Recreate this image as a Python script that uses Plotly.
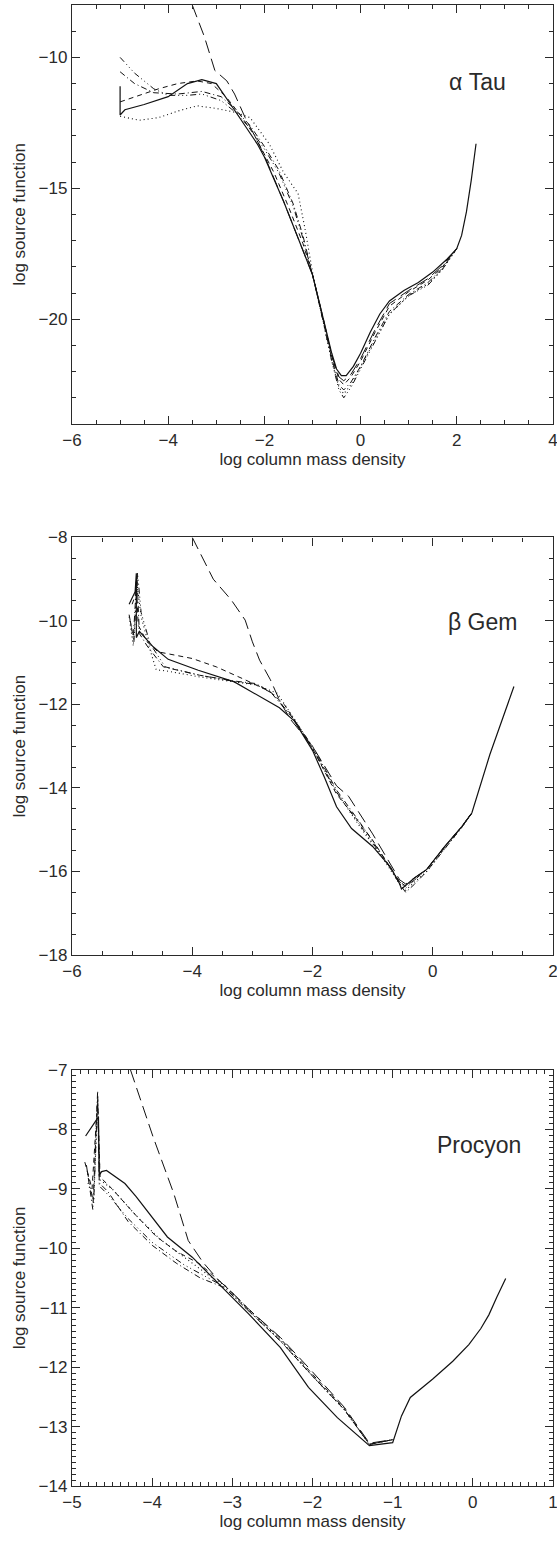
import plotly.graph_objects as go

# ---------------- alpha Tau ----------------
tau_solid_x = [-5.0, -5.0, -4.9, -4.5, -4.0, -3.6, -3.3, -3.0, -2.7, -2.4, -2.15, -2.0, -1.6, -1.3, -1.0, -0.8, -0.6, -0.5, -0.4, -0.3, -0.15, 0.0, 0.2, 0.4, 0.6, 0.9, 1.2, 1.5, 1.8, 2.0, 2.1, 2.2, 2.3, 2.4]
tau_solid_y = [-11.1, -12.2, -12.0, -11.8, -11.5, -11.0, -10.85, -11.0, -11.8, -12.6, -13.3, -13.8, -15.5, -16.9, -18.3, -19.8, -21.3, -21.9, -22.15, -22.15, -21.8, -21.3, -20.5, -19.8, -19.3, -18.9, -18.6, -18.2, -17.7, -17.3, -16.8, -15.9, -14.7, -13.3]
tau_dot_x = [-5.0, -4.6, -4.2, -3.8, -3.4, -3.0, -2.6, -2.3, -1.9, -1.6, -1.3, -1.15, -1.0, -0.8, -0.6, -0.45, -0.35, -0.2, 0.0, 0.3, 0.6, 1.0, 1.4, 1.7, 2.0]
tau_dot_y = [-12.25, -12.4, -12.3, -12.05, -11.85, -11.95, -12.1, -12.3, -13.3, -14.4, -15.2, -16.6, -18.2, -19.9, -21.6, -22.6, -22.85, -22.5, -21.8, -20.8, -19.8, -19.1, -18.65, -18.1, -17.3]
tau_dash_x = [-5.0, -4.6, -4.2, -3.8, -3.4, -3.1, -2.8, -2.5, -2.2, -1.8, -1.5, -1.2, -1.0, -0.8, -0.6, -0.45, -0.35, -0.2, 0.0, 0.3, 0.6, 1.0, 1.4, 1.7, 2.0]
tau_dash_y = [-11.7, -11.45, -11.2, -11.0, -10.9, -11.0, -11.5, -12.2, -13.0, -14.4, -15.7, -17.1, -18.3, -19.8, -21.4, -22.3, -22.5, -22.2, -21.6, -20.5, -19.5, -18.95, -18.5, -18.0, -17.3]
tau_dashdot_x = [-5.0, -4.7, -4.3, -3.8, -3.3, -2.9, -2.6, -2.3, -2.0, -1.7, -1.4, -1.2, -1.0, -0.8, -0.6, -0.45, -0.35, -0.2, 0.0, 0.3, 0.6, 1.0, 1.4, 1.7, 2.0]
tau_dashdot_y = [-10.55, -11.0, -11.35, -11.4, -11.3, -11.5, -12.0, -12.6, -13.4, -14.3, -15.6, -16.8, -18.3, -19.9, -21.5, -22.5, -22.7, -22.4, -21.8, -20.7, -19.7, -19.05, -18.6, -18.05, -17.3]
tau_dd3_x = [-5.0, -4.7, -4.3, -4.0, -3.6, -3.3, -2.9, -2.6, -2.3, -2.0, -1.7, -1.4, -1.2, -1.0, -0.8, -0.6, -0.45, -0.35, -0.2, 0.0, 0.3, 0.6, 1.0, 1.4, 1.7, 2.0]
tau_dd3_y = [-10.0, -10.6, -11.2, -11.45, -11.45, -11.4, -11.65, -12.1, -12.7, -13.5, -14.4, -15.7, -16.9, -18.3, -19.9, -21.6, -22.7, -23.0, -22.6, -21.9, -20.8, -19.8, -19.1, -18.7, -18.1, -17.3]
tau_long_x = [-3.5, -3.25, -3.03, -2.78, -2.62, -2.4, -2.2, -2.0, -1.6, -1.3, -1.0, -0.8, -0.6, -0.45, -0.35, -0.2, 0.0, 0.3, 0.6, 1.0, 1.4, 1.7, 2.0]
tau_long_y = [-8.0, -9.2, -10.5, -10.9, -11.4, -12.3, -13.0, -13.75, -15.5, -16.9, -18.3, -19.8, -21.4, -22.2, -22.35, -22.1, -21.5, -20.4, -19.4, -18.9, -18.45, -17.95, -17.3]

# ---------------- beta Gem ----------------
gem_solid_x = [-5.05, -4.95, -4.93, -4.93, -4.88, -4.65, -4.4, -3.9, -3.3, -2.95, -2.55, -2.3, -2.0, -1.8, -1.6, -1.35, -1.0, -0.7, -0.55, -0.52, -0.3, -0.1, 0.2, 0.48, 0.65, 0.95, 1.35]
gem_solid_y = [-9.6, -9.3, -8.86, -10.4, -10.25, -10.62, -10.92, -11.18, -11.46, -11.75, -12.08, -12.4, -13.1, -13.75, -14.45, -14.97, -15.4, -15.9, -16.3, -16.42, -16.15, -15.95, -15.4, -14.93, -14.6, -13.2, -11.57]
gem_dot_x = [-5.05, -4.98, -4.92, -4.85, -4.7, -4.6, -4.42, -3.88, -3.3, -2.94, -2.59, -2.3, -2.0, -1.6, -1.2, -0.8, -0.55, -0.45, -0.3, -0.1, 0.2, 0.48, 0.65]
gem_dot_y = [-9.9, -10.6, -9.1, -9.9, -10.7, -11.17, -11.2, -11.34, -11.46, -11.53, -11.73, -12.35, -13.05, -14.1, -14.95, -15.75, -16.3, -16.45, -16.25, -16.0, -15.45, -14.95, -14.6]
gem_dash_x = [-5.0, -4.95, -4.93, -4.9, -4.75, -4.57, -4.0, -3.6, -3.12, -2.7, -2.47, -2.3, -2.0, -1.6, -1.29, -1.0, -0.75, -0.55, -0.45, -0.3, -0.1, 0.2, 0.48, 0.65]
gem_dash_y = [-9.6, -9.4, -9.0, -10.1, -10.5, -10.74, -10.9, -11.1, -11.41, -11.7, -12.0, -12.38, -13.05, -14.15, -14.7, -15.25, -15.8, -16.25, -16.35, -16.2, -15.95, -15.4, -14.93, -14.6]
gem_dashdot_x = [-5.05, -4.98, -4.92, -4.88, -4.75, -4.48, -3.88, -3.3, -2.94, -2.7, -2.3, -2.0, -1.6, -1.2, -0.8, -0.55, -0.45, -0.3, -0.1, 0.2, 0.48, 0.65]
gem_dashdot_y = [-9.85, -10.4, -8.9, -10.3, -10.6, -11.1, -11.3, -11.44, -11.5, -11.7, -12.37, -13.0, -14.05, -14.85, -15.7, -16.3, -16.5, -16.3, -16.0, -15.45, -14.95, -14.6]
gem_dd3_x = [-5.03, -4.97, -4.91, -4.85, -4.7, -4.45, -3.88, -3.3, -2.94, -2.65, -2.3, -2.0, -1.6, -1.2, -0.8, -0.55, -0.45, -0.3, -0.1, 0.2, 0.48, 0.65]
gem_dd3_y = [-10.0, -10.5, -8.85, -9.8, -10.55, -11.1, -11.3, -11.45, -11.52, -11.75, -12.38, -13.05, -14.1, -14.9, -15.72, -16.25, -16.4, -16.2, -15.95, -15.42, -14.93, -14.6]
gem_long_x = [-4.0, -3.65, -3.35, -3.12, -3.0, -2.88, -2.7, -2.53, -2.36, -2.0, -1.6, -1.4, -1.0, -0.75, -0.55, -0.45, -0.3, -0.1, 0.2, 0.48, 0.65]
gem_long_y = [-8.0, -9.0, -9.5, -9.98, -10.5, -10.94, -11.41, -11.96, -12.37, -13.0, -13.95, -14.2, -15.1, -15.7, -16.2, -16.3, -16.15, -15.95, -15.4, -14.93, -14.6]

# ---------------- Procyon ----------------
pro_solid_x = [-4.83, -4.75, -4.67, -4.66, -4.63, -4.57, -4.45, -4.34, -4.2, -4.03, -3.81, -3.5, -3.17, -2.8, -2.4, -2.05, -1.69, -1.29, -1.0, -0.89, -0.78, -0.5, -0.25, -0.05, 0.1, 0.2, 0.3, 0.41]
pro_solid_y = [-8.11, -7.95, -7.79, -8.77, -8.71, -8.69, -8.8, -8.91, -9.13, -9.42, -9.81, -10.15, -10.6, -11.1, -11.67, -12.34, -12.85, -13.32, -13.27, -12.82, -12.51, -12.2, -11.9, -11.62, -11.35, -11.12, -10.82, -10.51]
pro_dot_x = [-4.8, -4.73, -4.68, -4.65, -4.5, -4.2, -3.9, -3.6, -3.3, -3.1, -2.8, -2.4, -2.0, -1.6, -1.29, -1.0]
pro_dot_y = [-8.9, -9.2, -7.6, -8.85, -9.0, -9.45, -9.85, -10.15, -10.45, -10.62, -11.03, -11.55, -12.15, -12.72, -13.3, -13.22]
pro_dash_x = [-4.84, -4.75, -4.68, -4.65, -4.5, -4.2, -3.95, -3.7, -3.41, -3.1, -2.8, -2.4, -2.0, -1.6, -1.29, -1.0]
pro_dash_y = [-8.55, -9.0, -7.5, -8.8, -9.0, -9.45, -9.8, -10.05, -10.26, -10.62, -11.02, -11.52, -12.12, -12.7, -13.3, -13.22]
pro_dashdot_x = [-4.82, -4.74, -4.68, -4.66, -4.55, -4.3, -4.0, -3.7, -3.4, -3.1, -2.8, -2.4, -2.0, -1.6, -1.29, -1.0]
pro_dashdot_y = [-8.6, -9.35, -7.35, -8.9, -9.05, -9.55, -9.95, -10.25, -10.5, -10.66, -11.05, -11.56, -12.15, -12.72, -13.3, -13.22]
pro_dd3_x = [-4.81, -4.73, -4.68, -4.66, -4.55, -4.3, -4.0, -3.6, -3.3, -3.1, -2.8, -2.4, -2.0, -1.6, -1.29, -1.0]
pro_dd3_y = [-8.7, -9.25, -7.45, -8.95, -9.1, -9.5, -9.9, -10.28, -10.5, -10.65, -11.05, -11.56, -12.15, -12.72, -13.3, -13.22]
pro_long_x = [-4.27, -3.99, -3.73, -3.55, -3.37, -3.17, -3.05, -2.8, -2.4, -2.0, -1.6, -1.29, -1.0]
pro_long_y = [-7.0, -8.12, -9.08, -9.87, -10.23, -10.54, -10.68, -11.02, -11.5, -12.08, -12.68, -13.28, -13.22]

panels = [
    ("x", "y", [(tau_solid_x, tau_solid_y, "solid"), (tau_dot_x, tau_dot_y, "dot"),
                (tau_dash_x, tau_dash_y, "dash"), (tau_dashdot_x, tau_dashdot_y, "dashdot"),
                (tau_dd3_x, tau_dd3_y, "dd3"), (tau_long_x, tau_long_y, "long")]),
    ("x2", "y2", [(gem_solid_x, gem_solid_y, "solid"), (gem_dot_x, gem_dot_y, "dot"),
                  (gem_dash_x, gem_dash_y, "dash"), (gem_dashdot_x, gem_dashdot_y, "dashdot"),
                  (gem_dd3_x, gem_dd3_y, "dd3"), (gem_long_x, gem_long_y, "long")]),
    ("x3", "y3", [(pro_solid_x, pro_solid_y, "solid"), (pro_dot_x, pro_dot_y, "dot"),
                  (pro_dash_x, pro_dash_y, "dash"), (pro_dashdot_x, pro_dashdot_y, "dashdot"),
                  (pro_dd3_x, pro_dd3_y, "dd3"), (pro_long_x, pro_long_y, "long")]),
]

styles = {
    "solid": dict(dash="solid", width=1.2),
    "dot": dict(dash="1px,3px", width=1.1),
    "dash": dict(dash="5px,4px", width=1.0),
    "dashdot": dict(dash="6px,3px,1px,3px", width=1.0),
    "dd3": dict(dash="6px,3px,1px,3px,1px,3px,1px,3px", width=1.0),
    "long": dict(dash="13px,6px", width=1.0),
}

fig = go.Figure()
for xa, ya, series in panels:
    for sx, sy, st in series:
        fig.add_trace(go.Scatter(x=sx, y=sy, mode="lines", xaxis=xa, yaxis=ya,
                                 line=dict(color="#111", **styles[st]),
                                 showlegend=False, hoverinfo="skip"))

FONT = "Liberation Sans"
TXT = "#2a2a2a"
W, H = 557, 1549
ML, MR, MT, MB = 72, 4, 5, 63          # plot area: x 72..553, y 5..1486
PH = H - MT - MB


def dom_y(top, bottom):
    return [(H - MB - bottom) / PH, (H - MB - top) / PH]


fig.update_layout(width=W, height=H, margin=dict(l=ML, r=MR, t=MT, b=MB, pad=0),
                  paper_bgcolor="white", plot_bgcolor="white", showlegend=False)

# axis placement and ranges
fig.update_layout(
    xaxis=dict(domain=[0, 1], anchor="y", range=[-6, 4], dtick=2),
    yaxis=dict(domain=dom_y(5, 424), anchor="x", range=[-24, -8], dtick=5),
    xaxis2=dict(domain=[0, 1], anchor="y2", range=[-6, 2], dtick=2),
    yaxis2=dict(domain=dom_y(537.4, 955), anchor="x2", range=[-18, -8], dtick=2),
    xaxis3=dict(domain=[0, 1], anchor="y3", range=[-5, 1], dtick=1),
    yaxis3=dict(domain=dom_y(1070, 1486), anchor="x3", range=[-14, -7], dtick=1),
)

# common styling
for upd in (fig.update_xaxes, fig.update_yaxes):
    upd(showline=True, linecolor=TXT, linewidth=1.3, mirror="allticks",
        ticks="inside", ticklen=8, tickwidth=1.2, tickcolor=TXT,
        showgrid=False, zeroline=False,
        tickfont=dict(family=FONT, size=17, color=TXT),
        title_font=dict(family=FONT, size=17, color=TXT))

fig.update_xaxes(title_text="log column mass density", title_standoff=4,
                 automargin="bottom", ticklabeloverflow="allow")
fig.update_yaxes(title_text="log source function", title_standoff=8,
                 automargin="left")

# minor ticks
fig.update_layout(
    xaxis_minor=dict(dtick=0.5, ticks="inside", ticklen=4, tickcolor=TXT),
    yaxis_minor=dict(dtick=1, ticks="inside", ticklen=4, tickcolor=TXT),
    xaxis2_minor=dict(dtick=0.5, ticks="inside", ticklen=4, tickcolor=TXT),
    yaxis2_minor=dict(dtick=0.5, ticks="inside", ticklen=4, tickcolor=TXT),
    xaxis3_minor=dict(dtick=0.1, ticks="inside", ticklen=3.5, tickcolor=TXT),
    yaxis3_minor=dict(dtick=0.1, ticks="inside", ticklen=3.5, tickcolor=TXT),
)

ann_font = dict(family=FONT, size=23, color=TXT)
fig.add_annotation(text="α Tau", xref="x domain", yref="y domain", x=0.844, y=0.816,
                   xanchor="center", yanchor="middle", showarrow=False, font=ann_font)
fig.add_annotation(text="β Gem", xref="x2 domain", yref="y2 domain", x=0.854, y=0.798,
                   xanchor="center", yanchor="middle", showarrow=False, font=ann_font)
fig.add_annotation(text="Procyon", xref="x3 domain", yref="y3 domain", x=0.846, y=0.819,
                   xanchor="center", yanchor="middle", showarrow=False, font=ann_font)

# a second full layout pass once the first drawing is done, so that the
# axis ticks are drawn (same as the redraw that a margin push triggers)
redraw_js = ("var gd = document.getElementById('{plot_id}');"
             "Plotly.relayout(gd, {'margin.t': 5.01, 'margin.r': 3.6});")

fig.write_html("out.html", post_script=redraw_js)
